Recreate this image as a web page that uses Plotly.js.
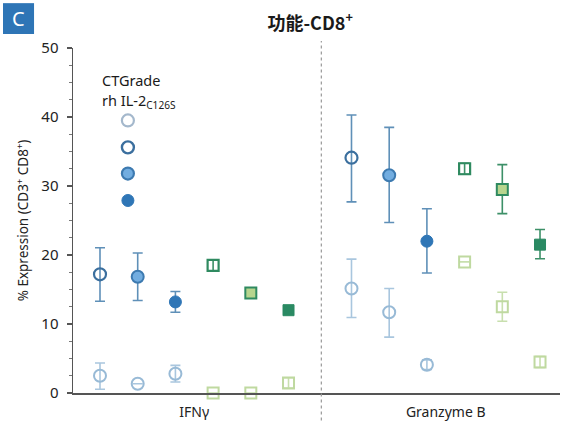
<!DOCTYPE html>
<html><head><meta charset="utf-8">
<script src="https://cdn.plot.ly/plotly-3.0.1.min.js"></script>
<style>html,body{margin:0;padding:0;background:#fff}#c{width:567px;height:423px}</style>
</head><body><div id="c"></div>
<script>
// ---- data ----
const categories = ['IFNγ', 'Granzyme B'];
// upper series (CTGrade rh IL-2 C126S variants)
const openCircleMean = [17.2, 34.1],  openCircleHi = [21.05, 40.3], openCircleLo = [13.3, 27.7];
const midCircleMean  = [16.85, 31.55], midCircleHi = [20.3, 38.5], midCircleLo = [13.4, 24.7];
const solidCircleMean= [13.2, 22.0],  solidCircleHi = [14.7, 26.7], solidCircleLo = [11.7, 17.4];
const openSquareMean = [18.5, 32.5],  openSquareHi = [19.3, 33.3], openSquareLo = [17.7, 31.7];
const midSquareMean  = [14.5, 29.5],  midSquareHi = [14.5, 33.1], midSquareLo = [14.5, 26.0];
const solidSquareMean= [12.0, 21.5],  solidSquareHi = [12.0, 23.7], solidSquareLo = [12.0, 19.45];
// lower series
const lowCircle1Mean = [2.5, 15.15], lowCircle1Hi = [4.35, 19.4], lowCircle1Lo = [0.55, 10.95];
const lowCircle2Mean = [1.35, 11.7], lowCircle2Hi = [1.35, 15.15], lowCircle2Lo = [1.35, 8.1];
const lowCircle3Mean = [2.8, 4.1],   lowCircle3Hi = [4.0, 4.8],    lowCircle3Lo = [1.6, 3.4];
const lowSquare1Mean = [0, 19.0],    lowSquare1Hi = [0, 19.0],     lowSquare1Lo = [0, 19.0];
const lowSquare2Mean = [0, 12.5],    lowSquare2Hi = [0, 14.6],     lowSquare2Lo = [0, 10.4];
const lowSquare3Mean = [1.45, 4.5],  lowSquare3Hi = [2.2, 5.3],    lowSquare3Lo = [0.7, 3.7];
// key markers
const keyLevels = [39.5, 35.6, 31.8, 27.9];
const yTicks = [0, 10, 20, 30, 40, 50];

// ---- layout helpers ----
const groupOffset = 6.67;
function xs(slot){ return categories.map((c,g)=> g*groupOffset + slot); }
function errs(mean, hi, lo){
  return {type:'data', symmetric:false,
    array: mean.map((m,i)=>hi[i]-m), arrayminus: mean.map((m,i)=>m-lo[i])};
}
function tr(slot, mean, hi, lo, symbol, size, fill, edge, lw, ecol){
  const e = errs(mean, hi, lo);
  Object.assign(e, {color: ecol, thickness: 1.6, width: 5});
  return {type:'scatter', mode:'markers', x: xs(slot), y: mean, error_y: e,
    cliponaxis:false, hoverinfo:'skip', showlegend:false,
    marker:{symbol, size, color: fill, line:{color: edge, width: lw}}};
}
const cDark='#3b6f9e', cErr='#5f90b8', cMidFill='#72ade0', cSolid='#2f76b6', cLight='#98bad6', cLightErr='#a9c6de';
const gDark='#2f8a60', gErr='#3d9068', gFill='#b7d58e', gSolid='#2a8a63', gLight='#bfd9a0', gLightErr='#c8dfae';

const traces = [
  tr(0, lowCircle1Mean, lowCircle1Hi, lowCircle1Lo, 'circle-open', 12, cLight, cLight, 2, cLightErr),
  tr(1, lowCircle2Mean, lowCircle2Hi, lowCircle2Lo, 'circle-open', 12, cLight, cLight, 2, cLightErr),
  tr(2, lowCircle3Mean, lowCircle3Hi, lowCircle3Lo, 'circle-open', 12, cLight, cLight, 2, cLightErr),
  tr(3, lowSquare1Mean, lowSquare1Hi, lowSquare1Lo, 'square-open', 11, gLight, gLight, 2, gLightErr),
  tr(4, lowSquare2Mean, lowSquare2Hi, lowSquare2Lo, 'square-open', 11, gLight, gLight, 2, gLightErr),
  tr(5, lowSquare3Mean, lowSquare3Hi, lowSquare3Lo, 'square-open', 11, gLight, gLight, 2, gLightErr),
  tr(0, openCircleMean, openCircleHi, openCircleLo, 'circle-open', 12, cDark, cDark, 2.2, cErr),
  tr(1, midCircleMean, midCircleHi, midCircleLo, 'circle', 12, cMidFill, '#3d7ab0', 2, cErr),
  tr(2, solidCircleMean, solidCircleHi, solidCircleLo, 'circle', 12, cSolid, cSolid, 1, cErr),
  tr(3, openSquareMean, openSquareHi, openSquareLo, 'square-open', 11, gDark, gDark, 2.2, gErr),
  tr(4, midSquareMean, midSquareHi, midSquareLo, 'square', 11, gFill, gDark, 2, gErr),
  tr(5, solidSquareMean, solidSquareHi, solidSquareLo, 'square', 11, gSolid, gSolid, 1, gErr),
  // key
  {type:'scatter', mode:'markers', x: keyLevels.map(()=>0.74), y: keyLevels, cliponaxis:false,
   hoverinfo:'skip', showlegend:false,
   marker:{size:12,
     symbol:['circle-open','circle-open','circle','circle'],
     color:['#a4b8cc', cDark, cMidFill, cSolid],
     line:{color:['#a4b8cc', cDark, '#3d7ab0', cSolid], width:[2.2,2.4,2.2,1]}}}
];

const font = 'Noto Sans, Open Sans, sans-serif';
const layout = {
  width:567, height:423, margin:{l:73, r:7, t:48, b:30},
  paper_bgcolor:'#fff', plot_bgcolor:'#fff', showlegend:false,
  font:{family:font, color:'#222', size:14},
  title:{text:'功能-CD8<sup>+</sup>', x:0.547, xanchor:'center', y:0.945, yanchor:'middle',
    font:{family:'Noto Sans CJK SC, Noto Sans, sans-serif', size:18, weight:700, color:'#1a1a1a'}},
  xaxis:{range:[-0.716, 12.2], showgrid:false, zeroline:false, showline:true, linecolor:'#555', linewidth:1.5,
    tickmode:'array', tickvals: categories.map((c,g)=> g*groupOffset + 2.5), ticktext: categories,
    ticks:'', ticklabelstandoff:6, tickfont:{size:14, color:'#222'}, fixedrange:true},
  yaxis:{range:[0,50], showgrid:false, zeroline:false, showline:true, linecolor:'#555', linewidth:1.5,
    tickmode:'array', tickvals: yTicks, ticks:'outside', ticklen:5, tickcolor:'#555', tickwidth:1.2,
    ticklabelstandoff:5,
    minor:{dtick:2.5, ticks:'outside', ticklen:3, tickcolor:'#777', tickwidth:1},
    tickfont:{size:15, color:'#222'},
    title:{text:'% Expression (CD3<sup>+</sup> CD8<sup>+</sup>)', font:{size:13.5, color:'#222'}, standoff:9}},
  shapes:[
    {type:'line', xref:'x', yref:'paper', x0:5.87, x1:5.87, y0:-0.08, y1:1.02,
     line:{color:'#999', width:1.2, dash:'dot'}},
    {type:'rect', xref:'paper', yref:'paper', x0:-0.1437, x1:-0.080, y0:1.0406, y1:1.130,
     fillcolor:'#2e75b6', line:{width:0}}
  ],
  annotations:[
    {xref:'paper', yref:'paper', x:-0.1118, y:1.0855, text:'C', showarrow:false,
     font:{size:20, color:'#fff', family:font}, xanchor:'center', yanchor:'middle'},
    {xref:'x', yref:'y', x:0, y:45.3, xanchor:'left', yanchor:'middle', showarrow:false,
     text:'CTGrade', font:{size:14.5, color:'#1a1a1a'}},
    {xref:'x', yref:'y', x:0, y:42.3, xanchor:'left', yanchor:'middle', showarrow:false,
     text:'rh IL-2<sub>C126S</sub>', font:{size:14.5, color:'#1a1a1a'}}
  ]
};
Plotly.newPlot('c', traces, layout, {staticPlot:true, displayModeBar:false});
</script></body></html>
